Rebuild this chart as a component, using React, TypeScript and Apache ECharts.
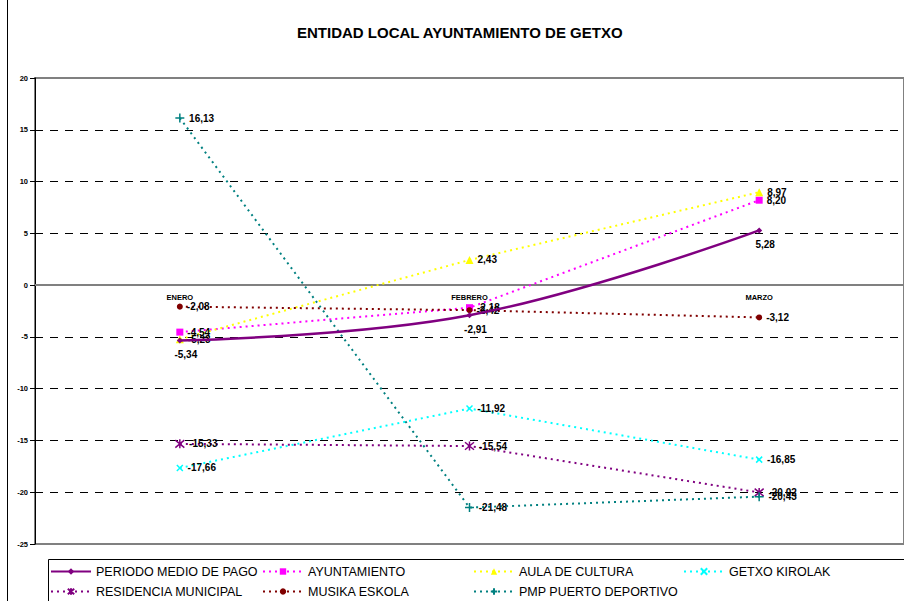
import React, { useEffect, useRef } from "react";
import * as echarts from "echarts";

const titleText = "ENTIDAD LOCAL AYUNTAMIENTO DE GETXO";
const categories = ["ENERO", "FEBRERO", "MARZO"];

const seriesNames = [
  "PERIODO MEDIO DE PAGO",
  "AYUNTAMIENTO",
  "AULA DE CULTURA",
  "GETXO KIROLAK",
  "RESIDENCIA MUNICIPAL",
  "MUSIKA ESKOLA",
  "PMP PUERTO DEPORTIVO",
];

const periodoMedio = [-5.34, -2.91, 5.28];
const ayuntamiento = [-4.54, -2.18, 8.2];
const aulaCultura = [-5.23, 2.43, 8.97];
const getxoKirolak = [-17.66, -11.92, -16.85];
const residencia = [-15.33, -15.54, -20.02];
const musikaEskola = [-2.08, -2.42, -3.12];
const puertoDeportivo = [16.13, -21.48, -20.43];

const yMin = -25;
const yMax = 20;
const yInterval = 5;

const fmt = (v: number) => v.toFixed(2).replace(".", ",");

export default function App() {
  const ref = useRef<HTMLDivElement>(null);
  useEffect(() => {
    if (!ref.current) return;
    const chart = echarts.init(ref.current, undefined, { renderer: "svg" });
    const font = "Arial, 'Liberation Sans', sans-serif";
    const gridTop = 78;
    const gridHeight = 466;
    const zeroOffset = -(gridHeight * (0 - yMin)) / (yMax - yMin);
    const labelRight = {
      show: true,
      position: "right",
      distance: 4,
      color: "#000",
      fontWeight: "bold",
      fontSize: 10,
      fontFamily: font,
      formatter: (p: any) => fmt(p.value),
    };
    const dotted = (color: string) => ({ color, width: 2, type: [2, 4] as any });
    const xPath = "path://M0,0L10,10M10,0L0,10";
    const starPath = "path://M0,0L10,10M10,0L0,10M5,-1L5,11";
    const plusPath = "path://M5,0L5,10M0,5L10,5";

    const defs = [
      {
        name: seriesNames[0],
        data: periodoMedio,
        color: "#800080",
        symbol: "diamond",
        symbolSize: 6,
        lineStyle: { color: "#800080", width: 2.5, type: "solid" },
        smooth: 0.4,
        z: 5,
        label: { ...labelRight, position: "bottom", distance: 6, offset: [6, 0] },
      },
      {
        name: seriesNames[1],
        data: ayuntamiento,
        color: "#FF00FF",
        symbol: "rect",
        symbolSize: 7,
        lineStyle: dotted("#FF00FF"),
      },
      {
        name: seriesNames[2],
        data: aulaCultura,
        color: "#FFFF00",
        symbol: "triangle",
        symbolSize: 8,
        lineStyle: dotted("#FFFF00"),
      },
      {
        name: seriesNames[3],
        data: getxoKirolak,
        color: "#00FFFF",
        symbol: xPath,
        symbolSize: 6,
        stroke: true,
        lineStyle: dotted("#00FFFF"),
      },
      {
        name: seriesNames[4],
        data: residencia,
        color: "#800080",
        symbol: starPath,
        symbolSize: 9,
        stroke: true,
        lineStyle: dotted("#800080"),
      },
      {
        name: seriesNames[5],
        data: musikaEskola,
        color: "#800000",
        symbol: "circle",
        symbolSize: 6,
        lineStyle: dotted("#800000"),
      },
      {
        name: seriesNames[6],
        data: puertoDeportivo,
        color: "#008080",
        symbol: plusPath,
        symbolSize: 9,
        stroke: true,
        lineStyle: dotted("#008080"),
      },
    ];

    const series = defs.map((d: any) => ({
      type: "line",
      name: d.name,
      data: d.data,
      symbol: d.symbol,
      symbolSize: d.symbolSize,
      showAllSymbol: true,
      smooth: d.smooth || false,
      z: d.z || 2,
      itemStyle: d.stroke
        ? { color: d.color, borderColor: d.color, borderWidth: 1.5 }
        : { color: d.color },
      lineStyle: d.lineStyle,
      label: d.label || labelRight,
      emphasis: { disabled: true },
    }));

    const legendPos = [
      [50, 572],
      [262, 572],
      [473, 572],
      [683, 572],
      [50, 592],
      [262, 592],
      [473, 592],
    ];
    const legends = seriesNames.map((n, i) => ({
      data: [n],
      left: legendPos[i][0],
      top: legendPos[i][1] - 7,
      padding: 0,
      itemWidth: 40,
      itemHeight: 8,
      itemGap: 0,
      selectedMode: false,
      textStyle: { color: "#000", fontSize: 12.5, fontFamily: font },
    }));

    chart.setOption({
      animation: false,
      backgroundColor: "#fff",
      title: {
        text: titleText,
        left: 297,
        top: 25,
        padding: 0,
        textStyle: { color: "#000", fontSize: 15, fontWeight: "bold", fontFamily: font },
      },
      grid: {
        left: 35,
        top: gridTop,
        width: 870,
        height: gridHeight,
        show: true,
        borderColor: "#808080",
        borderWidth: 2,
        backgroundColor: "transparent",
      },
      legend: legends,
      xAxis: {
        type: "category",
        data: categories,
        boundaryGap: true,
        offset: zeroOffset,
        axisLine: { onZero: false, lineStyle: { color: "#808080", width: 2 } },
        axisTick: { show: false },
        axisLabel: {
          color: "#000",
          fontSize: 7.5,
          fontWeight: "bold",
          fontFamily: font,
          margin: 8,
        },
        splitLine: { show: false },
      },
      yAxis: {
        type: "value",
        min: yMin,
        max: yMax,
        interval: yInterval,
        axisLine: { show: true, lineStyle: { color: "#000", width: 1 } },
        axisTick: { show: true, length: 5, lineStyle: { color: "#000" } },
        axisLabel: {
          color: "#000",
          fontSize: 7.5,
          fontWeight: "bold",
          fontFamily: font,
          margin: 7,
        },
        splitLine: {
          show: true,
          showMinLine: false,
          showMaxLine: false,
          lineStyle: { color: "#000", type: [8, 7], width: 1 },
        },
      },
      graphic: [
        {
          type: "line",
          shape: { x1: 7.5, y1: 0, x2: 7.5, y2: 601 },
          style: { stroke: "#000", lineWidth: 1 },
        },
        {
          type: "rect",
          shape: { x: 48.5, y: 559.5, width: 900, height: 60 },
          style: { fill: "none", stroke: "#000", lineWidth: 1 },
          z: -1,
        },
      ],
      series,
    });
    return () => chart.dispose();
  }, []);
  return (
    <div
      ref={ref}
      style={{ position: "fixed", left: 0, top: 0, width: 904, height: 601 }}
    />
  );
}
